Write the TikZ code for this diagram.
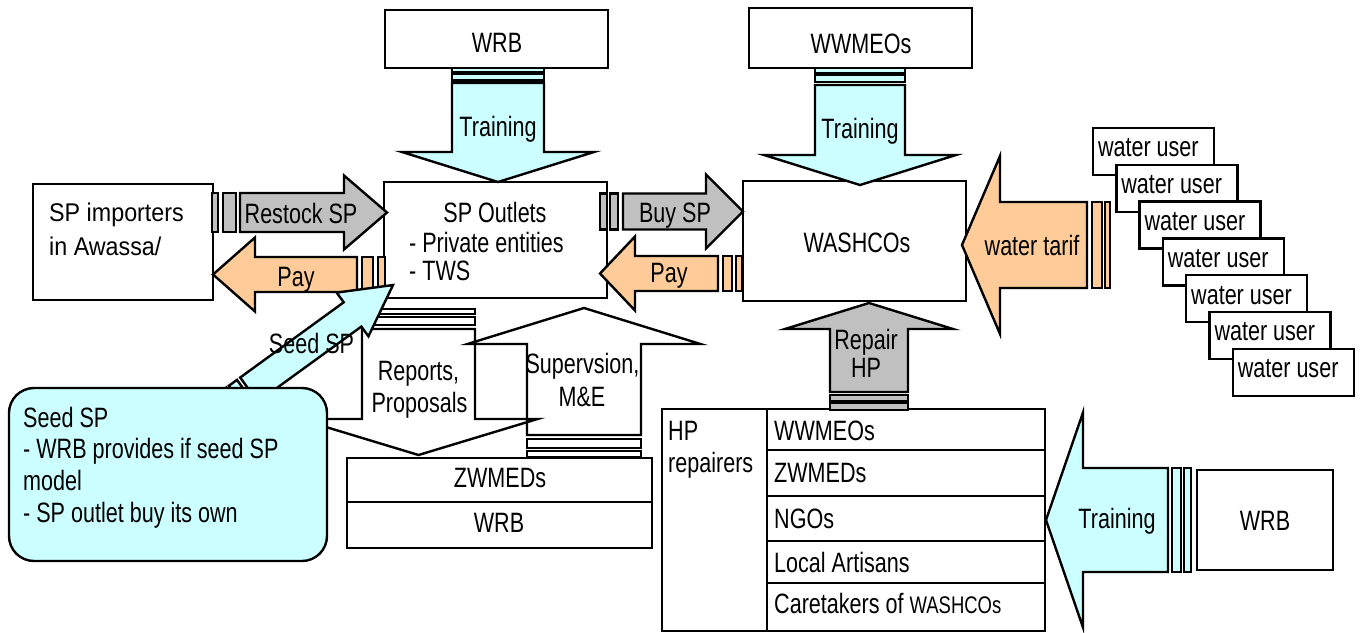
\documentclass[tikz,border=0pt]{standalone}
\usepackage{fontspec}
\setmainfont{Liberation Sans}[FakeStretch=0.77]
\newfontfamily\wideface{Liberation Sans}[FakeStretch=0.91]
\usetikzlibrary{calc}
\definecolor{lcyan}{HTML}{CCFFFF}
\definecolor{lgray}{HTML}{C0C0C0}
\definecolor{lorange}{HTML}{FFCC99}
\tikzset{
  % L / shaft half-width / head half-width / head length / stripe1 / gap1 / stripe2 / gap2
  pics/barrow/.style args={#1/#2/#3/#4/#5/#6/#7/#8}{code={
    \pgfmathsetmacro\sA{#5}
    \pgfmathsetmacro\sB{#5+#6}
    \pgfmathsetmacro\sC{#5+#6+#7}
    \pgfmathsetmacro\sD{#5+#6+#7+#8}
    \pgfmathsetmacro\hB{#1-#4}
    \path[pic actions] (0,-#2) -- (\sA,-#2) -- (\sA,#2) -- (0,#2) -- cycle;
    \path[pic actions] (\sB,-#2) -- (\sC,-#2) -- (\sC,#2) -- (\sB,#2) -- cycle;
    \path[pic actions] (\sD,-#2) -- (\hB,-#2) -- (\hB,-#3) -- (#1,0) -- (\hB,#3) -- (\hB,#2) -- (\sD,#2) -- cycle;
  }},
}
\begin{document}
\begin{tikzpicture}[x=0.5pt,y=-0.5pt, line width=1.2pt, line join=miter,
  every node/.style={font=\fontsize{14pt}{15pt}\selectfont},
  box/.style={draw, fill=white, inner sep=0pt},
  sz/.style 2 args={minimum width={#1*0.5pt}, minimum height={#2*0.5pt}},
  txt/.style={inner sep=0pt, text height=10pt, text depth=0pt},
  txtl/.style={txt, anchor=west},
  cyanarrow/.style={draw, fill=lcyan},
  grayarrow/.style={draw, fill=lgray},
  orangearrow/.style={draw, fill=lorange},
  whitearrow/.style={draw},
  callout/.style={draw, fill=lcyan, rounded corners=12.5pt, inner sep=0pt},
  widetxt/.style={txtl, text height=9.2pt, font=\wideface\fontsize{12.8pt}{14pt}\selectfont},
]
\useasboundingbox (0,0) rectangle (1360,632);

% ---------- boxes ----------
\node[box, sz={223}{58}] (wrbT) at (496.5,39) {};
\node[box, sz={223}{60}] (wwT) at (860.5,38) {};
\node[box, sz={180}{116}] (imp) at (123,242) {};
\node[box, sz={223}{116}] (outl) at (495.5,240) {};
\node[box, sz={223}{120}] (wash) at (854.5,241) {};
\node[box, sz={305}{44}] (zwm) at (499.5,480) {};
\node[box, sz={305}{46}] (wrbB) at (499.5,525) {};
% HP repairers table
\node[box, sz={105}{222}] (hpL) at (714.5,520) {};
\node[box, sz={278}{41}] (r1) at (906,429.5) {};
\node[box, sz={278}{46}] (r2) at (906,473) {};
\node[box, sz={278}{45}] (r3) at (906,518.5) {};
\node[box, sz={278}{42}] (r4) at (906,562) {};
\node[box, sz={278}{48}] (r5) at (906,607) {};
\node[box, sz={136}{100}] (wrbR) at (1265,520) {};
% water users
\foreach \i in {0,...,6} {
  \node[box, sz={121}{47}] (wu\i) at ({1153.5+23.3*\i},{151.5+36.8*\i}) {};
  \node[txtl] (wut\i) at ($(wu\i.north west)+(5,20)$) {water user};
}

% ---------- block arrows ----------
\pic[cyanarrow, rotate=-90] at (498,68) {barrow={114/46/96/30/4/1.5/7/2.5}};
\pic[cyanarrow, rotate=-90] at (860,68) {barrow={117/45/96/30/5/2/7/3}};
\pic[grayarrow] at (212,212.5) {barrow={175/19.5/37/43/6/5/13/4}};
\pic[orangearrow, rotate=180] at (385,274.5) {barrow={172/17.5/37/42/7/5/11/5}};
\pic[grayarrow] at (600,211.5) {barrow={143/18/37/37/7/3/8/5}};
\pic[orangearrow, rotate=180] at (742,273.5) {barrow={142/17.5/37/35/6/4/9/5}};
\pic[orangearrow, rotate=180] at (1110,245) {barrow={148/43/89/38/5/3/10/5}};
\pic[grayarrow, rotate=90] at (869,410) {barrow={107/39/84/26/7/2/6/3}};
\pic[cyanarrow, rotate=180] at (1191,520) {barrow={145/52/107.5/37/7/3/9/4}};
\pic[whitearrow, rotate=-90] at (418.5,309) {barrow={146/56.5/119/36/5/3/8/4}};
\pic[whitearrow, rotate=90] at (584,457) {barrow={149/57/116.5/36/6/3/9/4}};
\pic[cyanarrow, rotate=36] at (231.2,402.6) {barrow={200/15/27/50/5/3/10/4}};

% ---------- callout ----------
\node[callout, sz={318}{173}] (seedbox) at (168,474.5) {};

% ---------- texts ----------
\node[txt] (lwrbT) at (497,42.5) {WRB};
\node[txt] (lwwT) at (861,43.5) {WWMEOs};
\node[txt] (ltr1) at (498,126) {Training};
\node[txt] (ltr2) at (860,128) {Training};
\node[widetxt] (limp1) at (48,212.5) {SP importers};
\node[widetxt] (limp2) at (48,246.5) {in Awassa/};
\node[txt] (lout1) at (495,212.5) {SP Outlets};
\node[txtl] (lout2) at (408,242) {- Private entities};
\node[txtl] (lout3) at (408,270) {- TWS};
\node[txt] (lwash) at (857,242) {WASHCOs};
\node[txt] (lrest) at (301,213) {Restock SP};
\node[txt] (lpay1) at (296,276) {Pay};
\node[txt] (lbuy) at (675,212) {Buy SP};
\node[txt] (lpay2) at (669,272.5) {Pay};
\node[txt] (ltarif) at (1032,245) {water tarif};
\node[txt] (lrep1) at (866,339) {Repair};
\node[txt] (lrep2) at (866,367.5) {HP};
\node[txt] (lrepo1) at (418.5,370) {Reports,};
\node[txt] (lrepo2) at (419.5,402) {Proposals};
\node[txt] (lsup1) at (582.5,363) {Supervsion,};
\node[txt] (lsup2) at (582,396) {M\&E};
\node[txt] (lzwm) at (500,477.5) {ZWMEDs};
\node[txt] (lwrbB) at (499,522.5) {WRB};
\node[txtl] (lhp1) at (667,430) {HP};
\node[txtl] (lhp2) at (667,462) {repairers};
\node[txtl] (lr1) at (773,430) {WWMEOs};
\node[txtl] (lr2) at (773,472.5) {ZWMEDs};
\node[txtl] (lr3) at (773,518) {NGOs};
\node[txtl] (lr4) at (773,562.5) {Local Artisans};
\node[txtl] (lr5) at (773,603) {Caretakers of {\fontsize{12pt}{13pt}\selectfont WASHCOs}};
\node[txt] (ltr3) at (1117,518) {Training};
\node[txt] (lwrbR) at (1265,520) {WRB};
\node[txt] (lseed) at (311.5,343.5) {Seed SP};
\node[txtl] (lc1) at (22,417) {Seed SP};
\node[txtl] (lc2) at (22,448) {- WRB provides if seed SP};
\node[txtl] (lc3) at (22,480) {model};
\node[txtl] (lc4) at (22,512) {- SP outlet buy its own};
\end{tikzpicture}
\end{document}
